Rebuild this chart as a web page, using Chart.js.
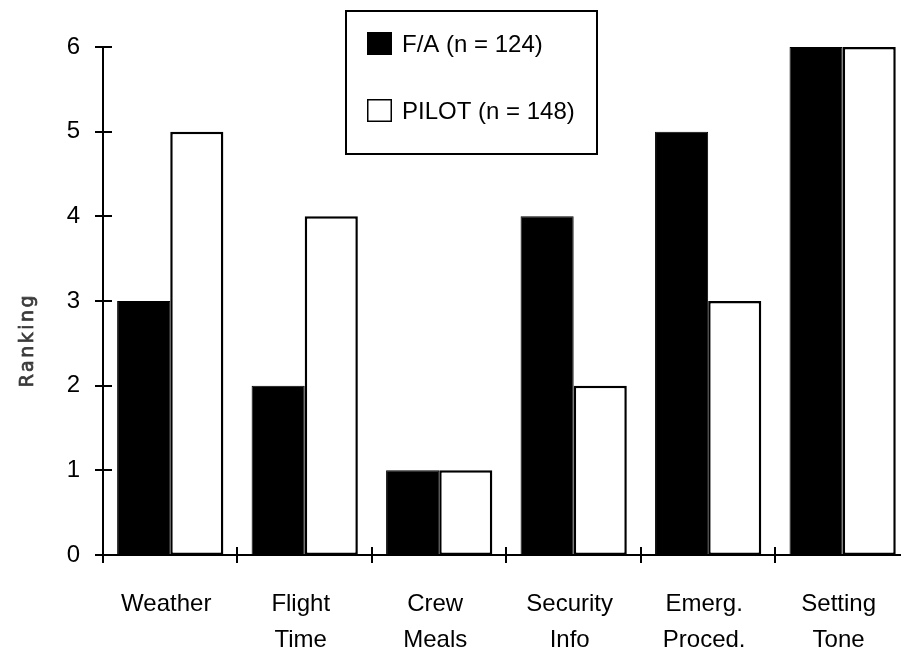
<!DOCTYPE html>
<html>
<head>
<meta charset="utf-8">
<script src="https://cdn.jsdelivr.net/npm/chart.js@4/dist/chart.umd.min.js"></script>
<style>
  html, body { margin: 0; padding: 0; background: #fff; overflow: hidden; }
  #wrap { width: 911px; height: 649px; }
</style>
</head>
<body>
<div id="wrap"><canvas id="chart" width="911" height="649"></canvas></div>
<script>
// Briefing topics and the rank each crew group gave them
const categories = ["Weather", ["Flight", "Time"], ["Crew", "Meals"], ["Security", "Info"], ["Emerg.", "Proced."], ["Setting", "Tone"]];
const faRanking = [3, 2, 1, 4, 5, 6];
const pilotRanking = [5, 4, 1, 2, 3, 6];
const seriesNames = ["F/A (n = 124)", "PILOT (n = 148)"];
const seriesFill = ["#000000", "#ffffff"];
const rankMin = 0;
const rankMax = 6;
const axisTitle = "Ranking";

const FONT = "'Liberation Sans', Arial, Helvetica, sans-serif";

// Tick marks that straddle each axis line
const crossTicks = {
  id: 'crossTicks',
  afterDraw(chart) {
    const { ctx, scales: { x, y }, chartArea } = chart;
    ctx.save();
    ctx.strokeStyle = '#000';
    ctx.lineWidth = 2;
    ctx.beginPath();
    y.ticks.forEach(t => {
      const py = Math.round(y.getPixelForValue(t.value));
      ctx.moveTo(chartArea.left - 8, py);
      ctx.lineTo(chartArea.left + 9, py);
    });
    for (let i = 0; i <= categories.length; i++) {
      const px = Math.round(x.getPixelForValue(i - 0.5));
      ctx.moveTo(px, chartArea.bottom - 8);
      ctx.lineTo(px, chartArea.bottom + 8);
    }
    ctx.stroke();
    ctx.restore();
  }
};

// Boxed legend and the rotated axis title
const boxedLegend = {
  id: 'boxedLegend',
  afterDraw(chart) {
    const { ctx } = chart;
    ctx.save();
    ctx.strokeStyle = '#000';
    ctx.lineWidth = 2;
    ctx.fillStyle = '#fff';
    ctx.fillRect(346, 11, 251, 143);
    ctx.strokeRect(346, 11, 251, 143);
    const rows = [44, 111];
    chart.data.datasets.forEach((ds, i) => {
      const cy = rows[i];
      ctx.fillStyle = ds.backgroundColor;
      ctx.fillRect(367, cy - 12, 25, 23);
      ctx.lineWidth = 1.5;
      ctx.strokeStyle = '#000';
      ctx.strokeRect(367.75, cy - 11.25, 23.5, 21.5);
      ctx.fillStyle = '#000';
      ctx.font = '24px ' + FONT;
      ctx.textAlign = 'left';
      ctx.textBaseline = 'middle';
      ctx.fillText(ds.label, 402, cy + 1);
    });
    // axis title
    ctx.translate(28, 340);
    ctx.rotate(-Math.PI / 2);
    ctx.filter = 'blur(0.5px)';
    ctx.fillStyle = '#3a3a3a';
    ctx.strokeStyle = '#3a3a3a';
    ctx.lineWidth = 0.7;
    ctx.font = '19px "DejaVu Sans", sans-serif';
    try { ctx.letterSpacing = '2.5px'; } catch (e) {}
    ctx.textAlign = 'center';
    ctx.textBaseline = 'middle';
    ctx.fillText(axisTitle, 0, 0);
    ctx.strokeText(axisTitle, 0, 0);
    ctx.restore();
  }
};

new Chart(document.getElementById('chart'), {
  type: 'bar',
  data: {
    labels: categories,
    datasets: [
      {
        label: seriesNames[0],
        data: faRanking,
        backgroundColor: seriesFill[0],
        borderColor: '#000',
        borderWidth: 1,
        borderSkipped: false
      },
      {
        label: seriesNames[1],
        data: pilotRanking,
        backgroundColor: seriesFill[1],
        borderColor: '#000',
        borderWidth: 2.5,
        borderSkipped: false
      }
    ]
  },
  options: {
    responsive: false,
    animation: false,
    events: [],
    layout: { padding: { left: 0, top: 47, right: 0, bottom: 0 } },
    datasets: {
      bar: { categoryPercentage: 0.79, barPercentage: 1.0 }
    },
    plugins: {
      legend: { display: false },
      tooltip: { enabled: false },
      title: { display: false }
    },
    scales: {
      x: {
        offset: true,
        grid: { display: false, drawTicks: false },
        border: { display: true, color: '#000', width: 2 },
        ticks: {
          color: '#000',
          font: { family: FONT, size: 24, lineHeight: 1.5 },
          padding: 31,
          labelOffset: -4,
          maxRotation: 0,
          autoSkip: false
        },
        afterFit(scale) { scale.height = 94; }
      },
      y: {
        min: rankMin,
        max: rankMax,
        grid: { display: false, drawTicks: false },
        border: { display: true, color: '#000', width: 2 },
        ticks: {
          stepSize: 1,
          color: '#000',
          font: { family: FONT, size: 24 },
          padding: 23
        },
        afterFit(scale) { scale.width = 103; }
      }
    }
  },
  plugins: [crossTicks, boxedLegend]
});
</script>
</body>
</html>
